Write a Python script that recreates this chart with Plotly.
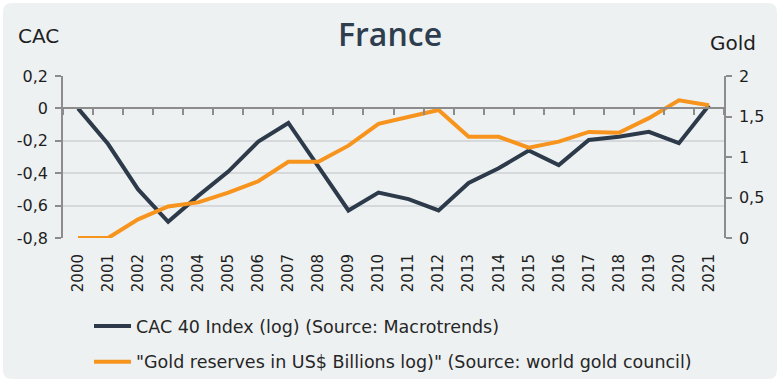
import plotly.graph_objects as go

years = ["2000", "2001", "2002", "2003", "2004", "2005", "2006", "2007", "2008", "2009", "2010",
         "2011", "2012", "2013", "2014", "2015", "2016", "2017", "2018", "2019", "2020", "2021"]
cac_log = [0.0, -0.22, -0.50, -0.70, -0.54, -0.39, -0.205, -0.09, -0.36, -0.63, -0.52,
           -0.56, -0.63, -0.46, -0.37, -0.26, -0.35, -0.195, -0.175, -0.145, -0.215, 0.02]
gold_log = [0.0, 0.0, 0.23, 0.39, 0.44, 0.56, 0.70, 0.94, 0.94, 1.14, 1.41,
            1.49, 1.58, 1.25, 1.25, 1.115, 1.19, 1.31, 1.30, 1.48, 1.70, 1.64]
left_ticks = [0.2, 0.0, -0.2, -0.4, -0.6, -0.8]
left_labels = ["0,2", "0", "-0,2", "-0,4", "-0,6", "-0,8"]
right_ticks = [0, 0.5, 1, 1.5, 2]
right_labels = ["0", "0,5", "1", "1,5", "2"]
name_cac = "CAC 40 Index (log) (Source: Macrotrends)"
name_gold = "\"Gold reserves in US$ Billions log)\" (Source: world gold council)"

W, H = 780, 382
L, R, T, B = 63, 56, 76, 144
pw, ph = W - L - R, H - T - B

def px(x):
    return (x - L) / pw

def py(y):
    return (H - B - y) / ph

FONT = "DejaVu Sans"
NAVY = "#2C3A4A"
ORANGE = "#F7941D"
AXC = "#8C8C8C"
TXT = "#1E1E1E"

fig = go.Figure()
fig.add_trace(go.Scatter(x=years, y=cac_log, name=name_cac, mode="lines", legendgroup="a",
                         line=dict(color=NAVY, width=4)))
fig.add_trace(go.Scatter(x=years, y=gold_log, name=name_gold, mode="lines", yaxis="y2",
                         legendgroup="b", line=dict(color=ORANGE, width=4)))
fig.add_trace(go.Scatter(x=[], y=[], xaxis="x2", showlegend=False, hoverinfo="skip"))

# rounded panel background
x0, x1, y0, y1 = px(3), px(777), py(3), py(379)
rx, ry = 9 / pw, 9 / ph
path = (f"M {x0+rx},{y0} L {x1-rx},{y0} Q {x1},{y0} {x1},{y0-ry} "
        f"L {x1},{y1+ry} Q {x1},{y1} {x1-rx},{y1} L {x0+rx},{y1} Q {x0},{y1} {x0},{y1+ry} "
        f"L {x0},{y0-ry} Q {x0},{y0} {x0+rx},{y0} Z")

fig.update_layout(
    width=W, height=H,
    margin=dict(l=L, r=R, t=T, b=B, pad=0, autoexpand=False),
    paper_bgcolor="white",
    plot_bgcolor="rgba(0,0,0,0)",
    font=dict(family=FONT, size=15, color=TXT),
    shapes=[dict(type="path", xref="paper", yref="paper", path=path,
                 fillcolor="#EEF1F2", line=dict(width=0), layer="below")],
    xaxis=dict(type="category", categoryarray=years, range=[-0.5, 21.5],
               tickangle=-90, showgrid=False, showline=False, ticks="",
               ticklabelstandoff=12, tickfont=dict(size=15, color=TXT)),
    xaxis2=dict(overlaying="x", anchor="free", position=0.8, range=[-0.5, 21.5],
                tickmode="linear", tick0=-0.5, dtick=1, ticks="outside", ticklen=6,
                tickcolor=AXC, tickwidth=1.5, showline=True, linecolor=AXC, linewidth=1.5,
                showticklabels=False, showgrid=False, zeroline=False),
    yaxis=dict(range=[-0.8, 0.2], tickvals=left_ticks, ticktext=left_labels,
               showline=True, linecolor=AXC, linewidth=1.5, ticks="outside", ticklen=6,
               tickcolor=AXC, tickwidth=1.5, gridcolor="#D6D9DB", gridwidth=1.5,
               zeroline=False, ticklabelstandoff=4, tickfont=dict(size=16, color=TXT)),
    yaxis2=dict(overlaying="y", side="right", range=[0, 2], tickvals=right_ticks,
                ticktext=right_labels, showline=True, linecolor=AXC, linewidth=1.5,
                ticks="outside", ticklen=6, tickcolor=AXC, tickwidth=1.5,
                showgrid=False, zeroline=False, ticklabelstandoff=4,
                tickfont=dict(size=16, color=TXT)),
    legend=dict(orientation="v", x=px(89), xanchor="left", y=py(308), yanchor="top",
                bgcolor="rgba(0,0,0,0)", font=dict(size=17.5, color="#262626"),
                tracegroupgap=10, traceorder="grouped", itemwidth=37),
    showlegend=True,
    annotations=[
        dict(text="France", x=px(390), y=py(34), xref="paper", yref="paper",
             xanchor="center", yanchor="middle", showarrow=False,
             font=dict(family="Open Sans", size=32, color="#2E3E4E", weight=600)),
        dict(text="CAC", x=px(38), y=py(36), xref="paper", yref="paper",
             xanchor="center", yanchor="middle", showarrow=False,
             font=dict(size=20, color=TXT)),
        dict(text="Gold", x=px(733), y=py(43), xref="paper", yref="paper",
             xanchor="center", yanchor="middle", showarrow=False,
             font=dict(size=20, color=TXT)),
    ],
)

fig.write_html("out.html", config={"displayModeBar": False},
               post_script="document.body.style.margin='0';document.body.style.padding='0';")
